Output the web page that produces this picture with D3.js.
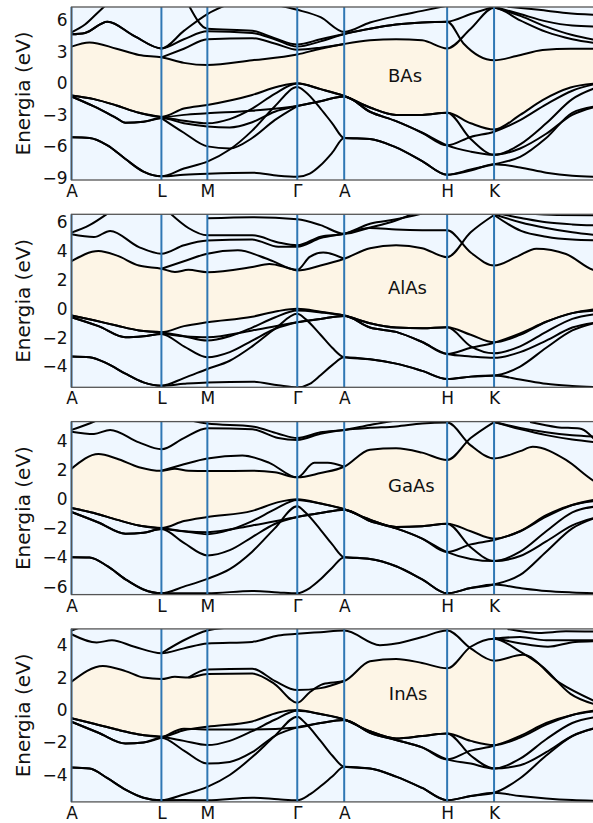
<!DOCTYPE html>
<html>
<head>
<meta charset="utf-8">
<script src="https://cdn.jsdelivr.net/npm/d3@7"></script>
<style>
  body { margin: 0; background: #fff; }
  text { font-family: "DejaVu Sans", sans-serif; fill: #111; }
</style>
</head>
<body>
<svg id="chart" width="593" height="823"></svg>
<script>
// High-symmetry path A–L–M–Γ–A–H–K–Γ (path length units)
const kTicks = [0, 1, 1.511, 2.511, 3.033, 4.178, 4.7];
const kLabels = ["A", "L", "M", "Γ", "A", "H", "K"];
const kEnd = 5.856;

const materials = ["BAs", "AlAs", "GaAs", "InAs"];
const energyRanges = [[-9.2, 7.27], [-5.44, 6.55], [-6.55, 5.33], [-5.66, 5.0]];
const energyTicks = [[-9, -6, -3, 0, 3, 6], [-4, -2, 0, 2, 4, 6], [-6, -4, -2, 0, 2, 4], [-4, -2, 0, 2, 4]];
const labelPos = [[3.52, 0.12], [3.52, 1.06], [3.52, 0.5], [3.53, 0.62]];

// Bands as [k, E (eV)] pairs
const basValence = [
  [[0,-1.15],[0.25,-1.5],[0.5,-2.1],[0.75,-2.8],[1,-3.2],[1.25,-2.4],[1.511,-2.05],[2.01,-1.1],[2.3,-0.3],[2.511,0],[2.77,-0.55],[3.033,-1.2],[3.32,-2.3],[3.61,-3.0],[3.9,-3.0],[4.178,-2.8],[4.44,-3.8],[4.7,-4.4],[4.99,-3.0],[5.24,-1.6],[5.55,-0.4],[5.856,0]],
  [[0,-1.15],[0.25,-1.5],[0.5,-2.1],[0.75,-2.8],[1,-3.2],[1.25,-3.55],[1.511,-3.8],[1.76,-3.4],[2.01,-2.4],[2.26,-1.0],[2.511,-0.02],[2.77,-0.55],[3.033,-1.2],[3.32,-2.3],[3.61,-3.0],[3.9,-3.0],[4.178,-2.8],[4.44,-5.3],[4.7,-6.8],[4.99,-5.8],[5.28,-3.8],[5.57,-1.5],[5.856,-0.35]],
  [[0,-1.25],[0.25,-2.2],[0.5,-3.3],[0.6,-3.75],[0.8,-3.65],[1,-3.3],[1.25,-3.0],[1.511,-2.85],[2.01,-2.6],[2.511,-2.16],[2.77,-1.7],[3.033,-1.25],[3.32,-2.7],[3.61,-3.6],[3.9,-4.7],[4.178,-5.9],[4.44,-5.1],[4.7,-4.6],[4.99,-3.5],[5.28,-2.0],[5.57,-0.7],[5.856,0]],
  [[0,-1.25],[0.25,-2.2],[0.5,-3.3],[0.6,-3.75],[0.8,-3.65],[1,-3.3],[1.25,-3.8],[1.511,-4.1],[1.76,-4.2],[2.01,-3.7],[2.26,-2.7],[2.511,-2.16],[2.77,-1.7],[3.033,-1.25],[3.32,-2.7],[3.61,-3.6],[3.9,-4.7],[4.178,-5.9],[4.44,-6.5],[4.7,-6.8],[4.99,-6.2],[5.28,-4.8],[5.57,-3.0],[5.856,-2.16]],
  [[1,-3.3],[1.25,-4.7],[1.511,-6.0],[1.76,-6.2],[2.01,-5.2],[2.26,-3.5],[2.511,-2.16]],
  [[0,-5.14],[0.2,-5.2],[0.4,-5.9],[0.6,-7.2],[0.8,-8.4],[1,-8.85],[1.25,-8.1],[1.511,-7.45],[1.76,-6.3],[2.01,-4.5],[2.26,-2.2],[2.511,-0.35],[2.6,-0.8],[2.77,-2.4],[2.9,-3.8],[3.033,-5.2],[3.32,-5.3],[3.61,-6.1],[3.9,-7.4],[4.178,-8.7],[4.44,-8.2],[4.7,-7.7],[4.99,-7.0],[5.28,-5.2],[5.57,-2.8],[5.856,-2.16]],
  [[0,-5.14],[0.2,-5.2],[0.4,-5.9],[0.6,-7.2],[0.8,-8.4],[1,-8.85],[1.25,-8.7],[1.511,-8.6],[2.01,-8.5],[2.3,-8.8],[2.511,-8.9],[2.65,-8.6],[2.77,-7.8],[2.9,-6.6],[3.033,-5.2],[3.32,-5.3],[3.61,-6.1],[3.9,-7.4],[4.178,-8.7],[4.44,-8.3],[4.7,-7.7],[4.99,-8.0],[5.28,-8.5],[5.57,-8.8],[5.856,-8.9]]
];
const basConduction = [
  [[0,3.5],[0.2,3.9],[0.5,3.3],[0.75,2.7],[1,2.48],[1.25,1.95],[1.511,1.74],[2.01,2.2],[2.511,2.75],[2.77,3.3],[3.033,3.75],[3.32,4.1],[3.61,4.2],[3.9,4.1],[4.178,3.33],[4.44,5.2],[4.7,7.2],[4.99,6.0],[5.28,4.9],[5.57,4.2],[5.856,3.8]],
  [[1,2.48],[1.25,3.3],[1.511,4.2],[2.01,4.3],[2.26,3.8],[2.511,3.2],[2.77,3.4],[3.033,3.75]],
  [[0,4.67],[0.15,4.8],[0.4,5.87],[0.7,4.5],[1,3.33],[1.25,4.2],[1.511,4.95],[2.01,4.8],[2.26,4.2],[2.511,3.5],[2.77,4.0],[3.033,4.7],[3.32,5.2],[3.61,5.6],[3.9,5.8],[4.178,5.87],[4.36,3.8],[4.7,2.2],[4.95,2.6],[5.24,3.17],[5.55,3.3],[5.856,3.3]],
  [[0,4.67],[0.15,4.8],[0.4,5.87],[0.7,4.5],[1,3.33],[1.25,5.0],[1.511,6.6],[1.76,7.6]],
  [[0,4.86],[0.15,5.6],[0.3,6.8],[0.4,7.6]],
  [[1.3,7.5],[1.511,5.2],[2.01,5.0],[2.26,4.3],[2.511,3.7],[2.77,4.2],[3.033,4.7],[3.32,5.2],[3.61,5.6],[3.9,5.8],[4.178,5.87],[4.44,6.6],[4.7,7.3]],
  [[2.2,7.6],[2.511,7.0],[2.77,6.3],[3.033,4.9],[3.32,5.8],[3.61,6.4],[3.9,6.9],[4.178,7.4]],
  [[4.7,7.3],[4.99,6.6],[5.28,5.9],[5.57,5.5],[5.856,5.4]],
  [[4.7,7.25],[5.0,6.4],[5.28,5.4],[5.57,4.6],[5.856,4.1]],
  [[4.85,7.3],[5.2,7.0],[5.5,6.7],[5.856,6.5]]
];

const alasValence = [
  [[0,-0.47],[0.25,-0.8],[0.5,-1.16],[0.75,-1.5],[1,-1.62],[1.25,-1.2],[1.511,-0.93],[2.01,-0.55],[2.3,-0.15],[2.511,0],[2.77,-0.2],[3.033,-0.47],[3.32,-1.0],[3.61,-1.3],[3.9,-1.35],[4.178,-1.28],[4.44,-1.8],[4.7,-2.32],[4.99,-1.8],[5.28,-0.9],[5.57,-0.3],[5.856,0]],
  [[0,-0.47],[0.25,-0.8],[0.5,-1.16],[0.75,-1.5],[1,-1.62],[1.25,-1.9],[1.511,-2.2],[1.76,-1.9],[2.01,-1.3],[2.26,-0.6],[2.511,-0.12],[2.77,-0.25],[3.033,-0.47],[3.32,-1.0],[3.61,-1.3],[3.9,-1.35],[4.178,-1.28],[4.44,-2.6],[4.7,-3.08],[4.99,-2.6],[5.28,-1.6],[5.57,-0.7],[5.856,-0.35]],
  [[0,-0.58],[0.3,-1.2],[0.6,-1.97],[0.8,-1.9],[1,-1.74],[1.25,-1.9],[1.511,-1.97],[2.01,-1.5],[2.511,-0.93],[2.77,-0.7],[3.033,-0.5],[3.32,-1.3],[3.61,-1.6],[3.9,-2.3],[4.178,-3.13],[4.44,-2.7],[4.7,-2.35],[4.99,-1.7],[5.28,-0.9],[5.57,-0.3],[5.856,-0.12]],
  [[0,-0.58],[0.3,-1.2],[0.6,-1.97],[0.8,-1.9],[1,-1.74],[1.25,-2.6],[1.511,-3.36],[1.76,-3.0],[2.01,-2.2],[2.26,-1.4],[2.511,-0.93],[2.77,-0.7],[3.033,-0.5],[3.32,-1.3],[3.61,-1.6],[3.9,-2.3],[4.178,-3.13],[4.44,-3.3],[4.7,-3.4],[4.99,-3.0],[5.28,-2.2],[5.57,-1.3],[5.856,-0.93]],
  [[0,-3.3],[0.2,-3.35],[0.4,-3.8],[0.6,-4.5],[0.8,-5.1],[1,-5.33],[1.25,-4.8],[1.511,-4.17],[1.76,-3.6],[2.01,-2.6],[2.26,-1.4],[2.511,-0.35],[2.6,-0.7],[2.77,-1.8],[2.9,-2.7],[3.033,-3.36],[3.32,-3.5],[3.61,-3.8],[3.9,-4.3],[4.178,-4.86],[4.44,-4.7],[4.7,-4.63],[4.99,-4.0],[5.28,-2.7],[5.57,-1.5],[5.856,-0.93]],
  [[0,-3.3],[0.2,-3.35],[0.4,-3.8],[0.6,-4.5],[0.8,-5.1],[1,-5.33],[1.25,-5.2],[1.511,-5.1],[2.01,-5.05],[2.3,-5.3],[2.511,-5.44],[2.65,-5.2],[2.77,-4.6],[2.9,-3.9],[3.033,-3.36],[3.32,-3.5],[3.61,-3.8],[3.9,-4.3],[4.178,-4.86],[4.44,-4.7],[4.7,-4.63],[4.99,-4.9],[5.28,-5.2],[5.57,-5.35],[5.856,-5.44]]
];
const alasConduction = [
  [[0,3.3],[0.3,4.0],[0.5,3.7],[0.75,3.0],[1,2.78],[1.15,2.55],[1.3,2.7],[1.511,2.54],[2.01,2.9],[2.2,3.1],[2.4,2.85],[2.511,2.66],[2.77,3.0],[3.033,3.47],[3.32,4.2],[3.61,4.4],[3.9,4.2],[4.178,3.58],[4.44,5.3],[4.7,6.5]],
  [[1,2.78],[1.25,3.3],[1.511,3.82],[1.85,4.05],[2.2,3.4],[2.511,2.7],[2.65,3.6],[2.8,3.9],[3.033,3.47]],
  [[0,5.16],[0.25,4.97],[0.43,5.4],[0.75,4.28],[1,3.82],[1.25,4.4],[1.511,4.74],[2.01,4.8],[2.3,4.3],[2.511,4.3],[2.77,4.9],[3.033,5.2],[3.32,5.6],[3.61,5.5],[3.9,5.45],[4.178,5.44],[4.44,3.9],[4.7,3.0],[4.95,3.6],[5.17,4.17],[5.5,3.8],[5.8,2.7],[5.856,2.6]],
  [[0,5.28],[0.2,5.8],[0.4,6.6]],
  [[1.1,6.6],[1.3,5.6],[1.511,5.09],[2.01,5.1],[2.3,4.6],[2.511,4.4],[2.77,5.0],[3.033,5.2],[3.32,5.9],[3.61,6.2],[3.9,6.6]],
  [[1.511,6.27],[2.01,6.35],[2.511,6.2],[2.77,5.8],[3.033,5.2],[3.3,5.6],[3.6,6.1],[3.8,6.6]],
  [[4.7,6.55],[4.99,6.0],[5.28,5.6],[5.57,5.3],[5.856,5.09]],
  [[4.7,6.5],[5.0,5.4],[5.28,5.0],[5.57,4.8],[5.856,4.74]],
  [[4.75,6.6],[5.0,6.3],[5.28,6.0],[5.57,5.85],[5.856,5.78]],
  [[5.05,6.6],[5.4,6.5],[5.856,6.48]]
];

const gaasValence = [
  [[0,-0.6],[0.25,-0.95],[0.5,-1.4],[0.75,-1.8],[1,-1.98],[1.25,-1.5],[1.511,-1.22],[2.01,-0.8],[2.3,-0.2],[2.511,0],[2.77,-0.3],[3.033,-0.69],[3.32,-1.4],[3.61,-1.9],[3.9,-1.85],[4.178,-1.68],[4.44,-2.2],[4.7,-2.71],[4.99,-2.2],[5.28,-1.2],[5.57,-0.4],[5.856,0]],
  [[0,-0.6],[0.25,-0.95],[0.5,-1.4],[0.75,-1.8],[1,-1.98],[1.25,-2.2],[1.511,-2.4],[1.76,-2.1],[2.01,-1.5],[2.26,-0.7],[2.511,-0.05],[2.77,-0.3],[3.033,-0.69],[3.32,-1.4],[3.61,-1.9],[3.9,-1.85],[4.178,-1.68],[4.44,-3.3],[4.7,-4.25],[4.99,-3.6],[5.28,-2.2],[5.57,-0.9],[5.856,-0.48]],
  [[0,-0.88],[0.3,-1.6],[0.6,-2.37],[0.8,-2.3],[1,-2.05],[1.25,-2.2],[1.511,-2.26],[2.01,-1.8],[2.511,-1.22],[2.77,-0.95],[3.033,-0.72],[3.32,-1.5],[3.61,-2.0],[3.9,-2.7],[4.178,-3.63],[4.44,-3.1],[4.7,-2.8],[4.99,-2.2],[5.28,-1.1],[5.57,-0.4],[5.856,-0.1]],
  [[0,-0.88],[0.3,-1.6],[0.6,-2.37],[0.8,-2.3],[1,-2.05],[1.25,-3.0],[1.511,-3.86],[1.76,-3.5],[2.01,-2.6],[2.26,-1.7],[2.511,-1.22],[2.77,-0.95],[3.033,-0.72],[3.32,-1.5],[3.61,-2.0],[3.9,-2.7],[4.178,-3.63],[4.44,-4.1],[4.7,-4.25],[4.99,-3.9],[5.28,-2.9],[5.57,-1.8],[5.856,-1.22]],
  [[0,-3.98],[0.2,-4.0],[0.4,-4.6],[0.6,-5.5],[0.8,-6.2],[1,-6.46],[1.25,-6.0],[1.511,-5.47],[1.76,-4.8],[2.01,-3.6],[2.26,-2.0],[2.511,-0.48],[2.6,-0.9],[2.77,-2.1],[2.9,-3.1],[3.033,-3.98],[3.32,-4.1],[3.61,-4.6],[3.9,-5.5],[4.178,-6.46],[4.44,-6.1],[4.7,-5.86],[4.99,-5.2],[5.28,-3.6],[5.57,-2.0],[5.856,-1.22]],
  [[0,-3.98],[0.2,-4.0],[0.4,-4.6],[0.6,-5.5],[0.8,-6.2],[1,-6.46],[1.25,-6.45],[1.511,-6.46],[2.01,-6.3],[2.3,-6.4],[2.511,-6.46],[2.65,-6.1],[2.77,-5.5],[2.9,-4.7],[3.033,-3.98],[3.32,-4.1],[3.61,-4.6],[3.9,-5.5],[4.178,-6.46],[4.44,-6.1],[4.7,-5.86],[4.99,-6.1],[5.28,-6.3],[5.57,-6.4],[5.856,-6.46]]
];
const gaasConduction = [
  [[0,2.1],[0.3,3.1],[0.5,2.8],[0.75,2.2],[1,1.95],[1.15,2.1],[1.3,1.95],[1.511,1.93],[2.01,1.95],[2.26,1.85],[2.511,1.5],[2.77,1.8],[3.033,2.23],[3.32,3.4],[3.61,3.5],[3.9,3.2],[4.178,2.69],[4.44,4.2],[4.7,5.3]],
  [[1,1.95],[1.25,2.4],[1.511,2.8],[1.9,3.0],[2.2,2.5],[2.511,1.5],[2.7,2.5],[2.85,2.5],[3.033,2.23]],
  [[0,4.64],[0.25,4.48],[0.43,4.76],[0.75,3.9],[1,3.43],[1.25,4.2],[1.511,4.87],[2.01,4.8],[2.3,4.2],[2.511,4.07],[2.77,4.5],[3.033,4.76],[3.32,4.9],[3.61,5.0],[3.9,5.2],[4.178,5.26],[4.44,3.7],[4.7,2.8],[4.99,3.3],[5.13,3.6],[5.5,2.7],[5.8,1.3],[5.856,1.1]],
  [[0,4.76],[0.2,5.2],[0.35,5.6]],
  [[1.2,5.6],[1.511,5.2],[2.01,5.0],[2.3,4.5],[2.511,4.2],[2.77,4.6],[3.033,4.76],[3.32,5.1],[3.61,5.4]],
  [[4.7,5.3],[4.99,4.9],[5.28,4.6],[5.57,4.4],[5.856,4.3]],
  [[4.7,5.3],[5.0,4.8],[5.28,4.4],[5.57,4.1],[5.856,3.9]],
  [[5.1,5.3],[5.4,4.95],[5.65,4.85],[5.856,3.84]]
];

const inasValence = [
  [[0,-0.51],[0.25,-0.85],[0.5,-1.2],[0.75,-1.5],[1,-1.65],[1.25,-1.25],[1.511,-1.03],[2.01,-0.7],[2.3,-0.15],[2.511,0],[2.77,-0.25],[3.033,-0.58],[3.32,-1.3],[3.61,-1.75],[3.9,-1.6],[4.178,-1.44],[4.44,-1.9],[4.7,-2.16],[4.99,-1.7],[5.28,-0.9],[5.57,-0.3],[5.856,0]],
  [[0,-0.51],[0.25,-0.85],[0.5,-1.2],[0.75,-1.5],[1,-1.65],[1.25,-1.9],[1.511,-2.16],[1.76,-1.9],[2.01,-1.3],[2.26,-0.6],[2.511,-0.05],[2.77,-0.25],[3.033,-0.58],[3.32,-1.3],[3.61,-1.75],[3.9,-1.6],[4.178,-1.44],[4.44,-2.8],[4.7,-3.6],[4.99,-3.0],[5.28,-1.8],[5.57,-0.8],[5.856,-0.41]],
  [[0,-0.72],[0.3,-1.4],[0.6,-2.06],[0.8,-2.0],[1,-1.7],[1.25,-1.15],[1.511,-1.2],[2.01,-1.2],[2.511,-1.07],[2.77,-0.8],[3.033,-0.62],[3.32,-1.4],[3.61,-1.85],[3.9,-2.3],[4.178,-3.04],[4.44,-2.5],[4.7,-2.2],[4.99,-1.6],[5.28,-0.8],[5.57,-0.3],[5.856,-0.05]],
  [[0,-0.72],[0.3,-1.4],[0.6,-2.06],[0.8,-2.0],[1,-1.7],[1.25,-2.5],[1.511,-3.3],[1.76,-3.2],[2.01,-2.6],[2.26,-1.6],[2.511,-1.07],[2.77,-0.8],[3.033,-0.62],[3.32,-1.4],[3.61,-1.85],[3.9,-2.3],[4.178,-3.04],[4.44,-3.3],[4.7,-3.6],[4.99,-3.4],[5.28,-2.6],[5.57,-1.6],[5.856,-1.07]],
  [[0,-3.54],[0.2,-3.6],[0.4,-4.2],[0.6,-4.9],[0.8,-5.4],[1,-5.56],[1.25,-5.2],[1.511,-4.73],[1.76,-4.0],[2.01,-2.9],[2.26,-1.6],[2.511,-0.41],[2.6,-0.8],[2.77,-1.9],[2.9,-2.8],[3.033,-3.5],[3.32,-3.6],[3.61,-4.1],[3.9,-4.8],[4.178,-5.56],[4.44,-5.3],[4.7,-5.1],[4.99,-4.2],[5.28,-2.8],[5.57,-1.6],[5.856,-1.07]],
  [[0,-3.54],[0.2,-3.6],[0.4,-4.2],[0.6,-4.9],[0.8,-5.4],[1,-5.56],[1.25,-5.55],[1.511,-5.56],[2.01,-5.4],[2.3,-5.5],[2.511,-5.56],[2.65,-5.2],[2.77,-4.7],[2.9,-4.1],[3.033,-3.5],[3.32,-3.6],[3.61,-4.1],[3.9,-4.8],[4.178,-5.56],[4.44,-5.3],[4.7,-5.1],[4.99,-5.3],[5.28,-5.45],[5.57,-5.55],[5.856,-5.6]]
];
const inasConduction = [
  [[0,1.75],[0.35,2.72],[0.6,2.4],[0.8,2.0],[1,1.91],[1.15,2.05],[1.3,2.0],[1.511,2.22],[2.01,2.25],[2.26,1.6],[2.511,0.45],[2.65,1.1],[2.8,1.6],[3.033,1.79],[3.32,3.0],[3.61,3.15],[3.9,2.9],[4.178,2.57],[4.44,3.9],[4.7,4.4],[4.99,3.6],[5.24,2.67],[5.55,1.0],[5.856,0.3]],
  [[0,4.67],[0.28,4.16],[0.45,4.3],[0.7,3.9],[1,3.5],[1.25,3.8],[1.511,4.1],[2.01,4.2],[2.3,4.6],[2.511,4.7],[2.77,4.8],[3.033,4.9],[3.43,4.0],[3.61,4.1],[3.9,4.5],[4.178,4.9],[4.44,3.8],[4.7,3.04],[5.02,3.4],[5.43,1.67],[5.856,0.45]],
  [[0,4.9],[0.15,5.2]],
  [[1,3.5],[1.25,4.3],[1.511,4.9],[1.8,5.1]],
  [[1.3,2.0],[1.511,2.5],[2.01,2.55],[2.26,1.8],[2.511,1.23],[2.77,1.35],[3.033,1.79]],
  [[4.7,4.4],[4.99,4.5],[5.28,4.3],[5.57,4.3],[5.856,4.3]],
  [[4.7,4.45],[5.0,4.1],[5.3,3.9],[5.6,4.2],[5.856,4.25]],
  [[4.85,5.0],[5.2,4.75],[5.5,4.85],[5.856,4.83]]
];

const valenceSets = [basValence, alasValence, gaasValence, inasValence];
const conductionSets = [basConduction, alasConduction, gaasConduction, inasConduction];

const svg = d3.select("#chart");
const plotLeft = 71.5, plotRight = 598;
const firstTop = 7, panelStep = 207.3, panelH = 173;

const x = d3.scaleLinear().domain([0, kEnd]).range([plotLeft, plotRight]);

// Turn a curve into dense sample points by recording the path commands d3 emits
function sampleCurve(lineGen, pts) {
  const segs = [];
  let cx = 0, cy = 0;
  const ctx = {
    moveTo(a, b) { cx = a; cy = b; },
    lineTo(a, b) { segs.push([cx, cy, cx, cy, a, b, a, b]); cx = a; cy = b; },
    bezierCurveTo(a, b, c, d, e, f) { segs.push([cx, cy, a, b, c, d, e, f]); cx = e; cy = f; },
    closePath() {}
  };
  lineGen.context(ctx)(pts);
  lineGen.context(null);
  const out = [];
  segs.forEach(s => {
    for (let i = 0; i <= 40; i++) {
      const t = i / 40, u = 1 - t;
      const b0 = u * u * u, b1 = 3 * u * u * t, b2 = 3 * u * t * t, b3 = t * t * t;
      out.push([b0 * s[0] + b1 * s[2] + b2 * s[4] + b3 * s[6], b0 * s[1] + b1 * s[3] + b2 * s[5] + b3 * s[7]]);
    }
  });
  return out;
}

function valueAt(samples, px) {
  if (px < samples[0][0] || px > samples[samples.length - 1][0]) return null;
  for (let i = 1; i < samples.length; i++) {
    const a = samples[i - 1], b = samples[i];
    if (px >= a[0] && px <= b[0]) {
      if (b[0] === a[0]) return a[1];
      return a[1] + (b[1] - a[1]) * (px - a[0]) / (b[0] - a[0]);
    }
  }
  return null;
}

materials.forEach((name, i) => {
  const top = firstTop + i * panelStep;
  const bottom = top + panelH;
  const y = d3.scaleLinear().domain(energyRanges[i]).range([bottom, top]);
  const g = svg.append("g");

  const clipId = "clip" + i;
  svg.append("clipPath").attr("id", clipId)
    .append("rect").attr("x", plotLeft).attr("y", top)
    .attr("width", plotRight - plotLeft).attr("height", panelH);

  g.append("rect").attr("x", plotLeft).attr("y", top)
    .attr("width", plotRight - plotLeft).attr("height", panelH)
    .attr("fill", "#eff7ff");

  const line = d3.line().x(d => x(d[0])).y(d => y(d[1])).curve(d3.curveMonotoneX);

  // Band gap region: between the highest valence and lowest conduction band
  const vSamples = valenceSets[i].map(b => sampleCurve(line, b));
  const cSamples = conductionSets[i].map(b => sampleCurve(line, b));
  const gap = [];
  for (let px = Math.ceil(plotLeft); px <= Math.floor(plotRight); px++) {
    let vTop = Infinity, cBot = -Infinity;
    vSamples.forEach(s => { const v = valueAt(s, px); if (v !== null) vTop = Math.min(vTop, v); });
    cSamples.forEach(s => { const v = valueAt(s, px); if (v !== null) cBot = Math.max(cBot, v); });
    if (isFinite(vTop) && isFinite(cBot)) gap.push([px, cBot, vTop]);
  }
  g.append("path")
    .attr("clip-path", `url(#${clipId})`)
    .attr("d", d3.area().x(d => d[0]).y0(d => d[1]).y1(d => d[2])(gap))
    .attr("fill", "#fdf5e6");

  const bands = g.append("g").attr("clip-path", `url(#${clipId})`);
  valenceSets[i].concat(conductionSets[i]).forEach(b => {
    bands.append("path").attr("d", line(b))
      .attr("fill", "none").attr("stroke", "#000")
      .attr("stroke-width", 2).attr("stroke-linejoin", "round");
  });

  g.append("g").selectAll("line").data(kTicks).join("line")
    .attr("x1", d => x(d)).attr("x2", d => x(d))
    .attr("y1", top).attr("y2", bottom)
    .attr("stroke", "#2f77b4").attr("stroke-width", 2);

  g.append("rect").attr("x", plotLeft).attr("y", top)
    .attr("width", plotRight - plotLeft).attr("height", panelH)
    .attr("fill", "none").attr("stroke", "#555").attr("stroke-width", 1.3);

  const yAxis = g.append("g").attr("transform", `translate(${plotLeft},0)`)
    .call(d3.axisLeft(y).tickValues(energyTicks[i]).tickSize(0).tickPadding(4));
  yAxis.select(".domain").remove();
  yAxis.selectAll("text").style("font-size", "17px").style("font-family", '"DejaVu Sans", sans-serif').attr("fill", "#111");

  const xAxis = g.append("g").attr("transform", `translate(0,${bottom})`)
    .call(d3.axisBottom(x).tickValues(kTicks).tickFormat((d, j) => kLabels[j]).tickSize(0).tickPadding(5));
  xAxis.select(".domain").remove();
  xAxis.selectAll("text").style("font-size", "17px").style("font-family", '"DejaVu Sans", sans-serif').attr("fill", "#111");

  g.append("text")
    .attr("transform", `translate(23,${(top + bottom) / 2}) rotate(-90)`)
    .attr("text-anchor", "middle").attr("dominant-baseline", "central")
    .style("font-size", "20px").text("Energia (eV)");

  g.append("text")
    .attr("x", x(labelPos[i][0])).attr("y", y(labelPos[i][1]))
    .style("font-size", "18px").text(name);
});
</script>
</body>
</html>
